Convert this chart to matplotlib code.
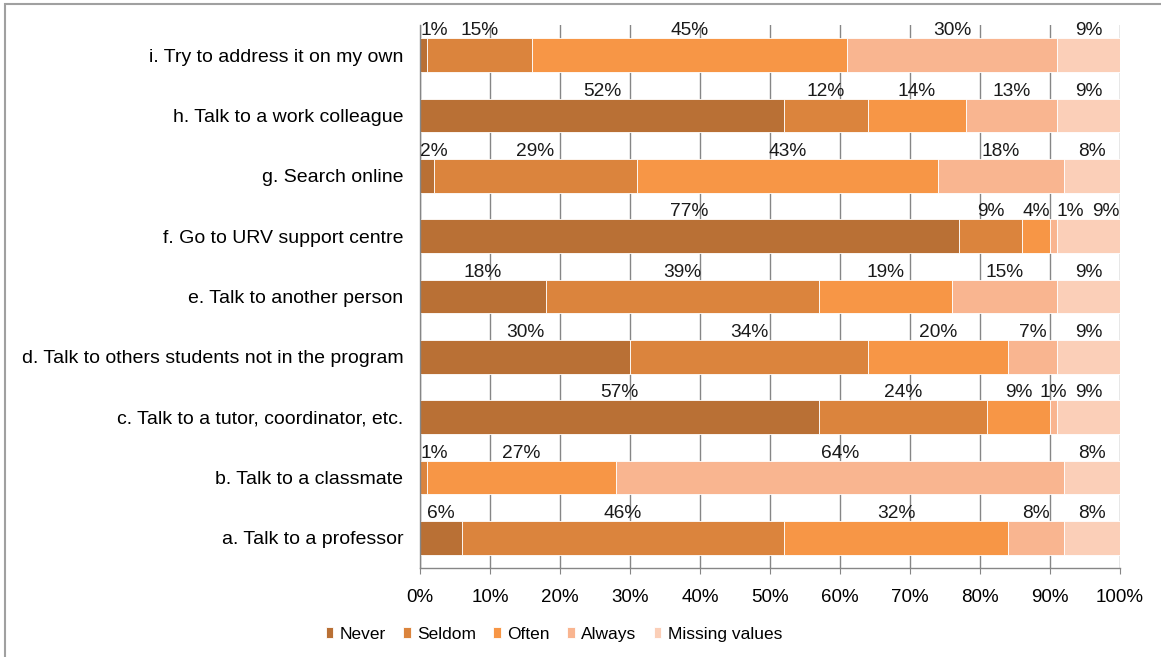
import matplotlib
matplotlib.use("Agg")
import matplotlib.pyplot as plt
from matplotlib.patches import Rectangle
import numpy as np

plt.rcParams['font.family'] = ['Liberation Sans', 'DejaVu Sans']

###############################################################################

categories = ["a. Talk to a professor",
              "b. Talk to a classmate",
              "c. Talk to a tutor, coordinator, etc.",
              "d. Talk to others students not in the program",
              "e. Talk to another person",
              "f. Go to URV support centre",
              "g. Search online",
              "h. Talk to a work colleague",
              "i. Try to address it on my own"]

series = ["Never", "Seldom", "Often", "Always", "Missing values"]

never   = [6, 0, 57, 30, 18, 77, 2, 52, 1]
seldom  = [46, 1, 24, 34, 39, 9, 29, 12, 15]
often   = [32, 27, 9, 20, 19, 4, 43, 14, 45]
always  = [8, 64, 1, 7, 15, 1, 18, 13, 30]
missing = [8, 8, 9, 9, 9, 9, 8, 9, 9]

colors = ["#B97035", "#DB843D", "#F79646", "#F9B590", "#FBCFB8"]

###############################################################################

fig = plt.figure(figsize=(11.61, 6.57), dpi=100)
ax = fig.add_axes([420/1161, 1-568/657, 700/1161, 543/657])

values = np.array([never, seldom, often, always, missing], dtype=float)
y = np.arange(len(categories))
bar_h = 0.56
left = np.zeros(len(categories))
for k in range(len(series)):
    ax.barh(y, values[k], left=left, height=bar_h, color=colors[k],
            edgecolor="white", linewidth=0.6, label=series[k], zorder=2)
    left += values[k]

# data labels on the top edge of the bars, pushed apart where they would collide
lab_size = 13.8
px_per_pct = 7.0
pad = 1.0
for i in range(len(categories)):
    starts = np.cumsum(values[:, i]) - values[:, i]
    labs = []
    for k in range(len(series)):
        v = values[k, i]
        if v <= 0:
            continue
        txt = "{:d}%".format(int(v))
        width_px = (0.556*(len(txt)-1) + 0.889) * lab_size*100/72
        half = width_px / px_per_pct / 2
        c = starts[k] + v/2
        c = min(max(c, half), 100 - half)
        labs.append([c, half, txt])
    for j in range(1, len(labs)):
        need = labs[j-1][0] + labs[j-1][1] + labs[j][1] + pad
        if labs[j][0] < need:
            labs[j][0] = need
    for j in range(len(labs)-1, -1, -1):
        if j == len(labs)-1:
            lim = 100 - labs[j][1]
        else:
            lim = labs[j+1][0] - labs[j+1][1] - labs[j][1] - pad
        if labs[j][0] > lim:
            labs[j][0] = lim
    for c, half, txt in labs:
        ax.text(c, y[i] + bar_h/2 - 0.02, txt, ha="center", va="bottom",
                fontsize=lab_size, color="#1a1a1a", zorder=3)

ax.set_xlim(0, 100)
ax.set_ylim(-0.5, len(categories) - 0.5)
ax.set_xticks(np.arange(0, 101, 10))
ax.set_xticklabels(["{:d}%".format(t) for t in range(0, 101, 10)], fontsize=13.5)
ax.set_yticks(y)
ax.set_yticklabels(categories, fontsize=14)
ax.tick_params(axis="y", length=0, pad=12)
ax.tick_params(axis="x", length=4, color="#868686", pad=11)
ax.xaxis.grid(True, color="#868686", linewidth=1.0, zorder=0)
ax.set_axisbelow(True)
for s in ["top", "right"]:
    ax.spines[s].set_visible(False)
for s in ["left", "bottom"]:
    ax.spines[s].set_color("#868686")
    ax.spines[s].set_linewidth(1.0)

fig.legend(loc="center", bbox_to_anchor=(0.477, 0.035), ncol=5, frameon=False,
           fontsize=12.5, handlelength=0.45, handleheight=0.55, handletextpad=0.35,
           columnspacing=1.0)

# outer chart border
fig.patches.append(Rectangle((5/1161, -0.1), 1.2, 1 - 4/657 + 0.1,
                             transform=fig.transFigure, fill=False,
                             edgecolor="#A0A0A0", linewidth=1.5))

plt.savefig("out.png", dpi=100)
plt.close()
